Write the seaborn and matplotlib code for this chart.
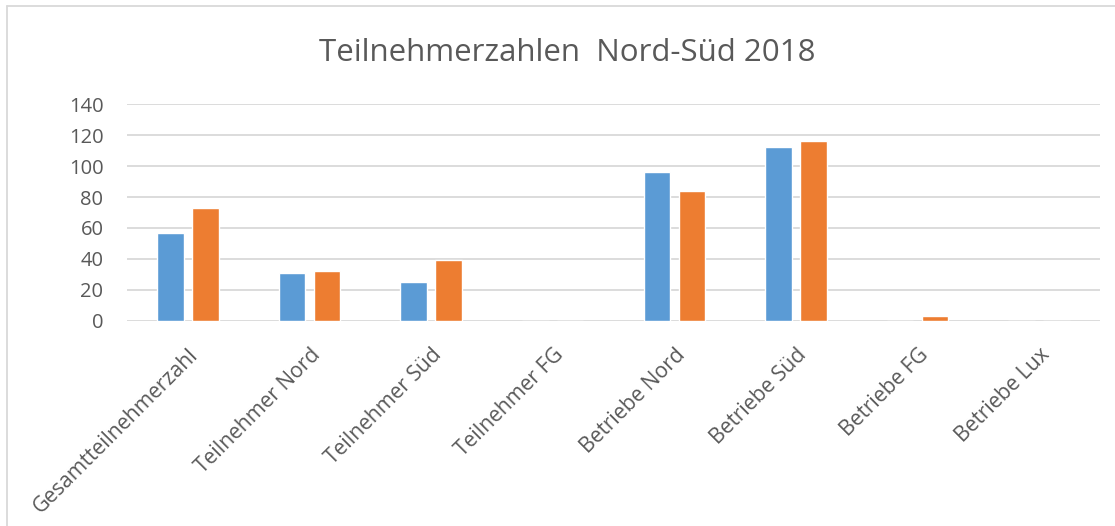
import pandas as pd
import seaborn as sns
from matplotlib import pyplot as plt
from matplotlib.lines import Line2D

categories = ["Gesamtteilnehmerzahl", "Teilnehmer Nord", "Teilnehmer Süd", "Teilnehmer FG",
              "Betriebe Nord", "Betriebe Süd", "Betriebe FG", "Betriebe Lux"]
series_a = [57, 31, 25, 0, 96, 112, 0, 0]
series_b = [73, 32, 39, 0, 84, 116, 3, 0]
y_ticks = [0, 20, 40, 60, 80, 100, 120, 140]

sns.set_style("white")
plt.rcParams['font.family'] = ['Open Sans', 'DejaVu Sans']

df = pd.DataFrame({
    "cat": categories * 2,
    "value": series_a + series_b,
    "series": ["A"] * len(categories) + ["B"] * len(categories),
})

fig = plt.figure(figsize=(11.15, 5.26), dpi=100)
ax = fig.add_axes([0.114, 0.390, 0.8725, 0.412])

sns.barplot(df, x="cat", y="value", hue="series", order=categories,
            palette=["#5B9BD5", "#ED7D31"], width=0.575, gap=0.24,
            saturation=1, legend=False, ax=ax)

ax.set_ylim(0, 140)
ax.set_xlim(-0.5, len(categories) - 0.5)
ax.set_yticks(y_ticks)
ax.yaxis.grid(True, color="#D9D9D9", linewidth=1.3)
ax.set_axisbelow(True)
sns.despine(ax=ax, left=True, bottom=True)
ax.set_xlabel("")
ax.set_ylabel("")
ax.tick_params(axis="y", length=0, pad=17, labelsize=14.5, labelcolor="#595959")
ax.tick_params(axis="x", length=0, pad=17, labelsize=15.2, labelcolor="#595959")
plt.setp(ax.get_xticklabels(), rotation=45, ha="right", rotation_mode="anchor")

fig.text(0.509, 0.884, "Teilnehmerzahlen  Nord-Süd 2018", ha="center", va="baseline",
         fontsize=22.5, color="#595959")

# chart area border (only top and left visible in the reference crop)
fig.add_artist(Line2D([0.0063, 1.0], [0.9886, 0.9886], color="#D9D9D9", lw=1.3))
fig.add_artist(Line2D([0.0063, 0.0063], [0.0, 0.9886], color="#D9D9D9", lw=1.3))

fig.savefig("out.png", dpi=100)
